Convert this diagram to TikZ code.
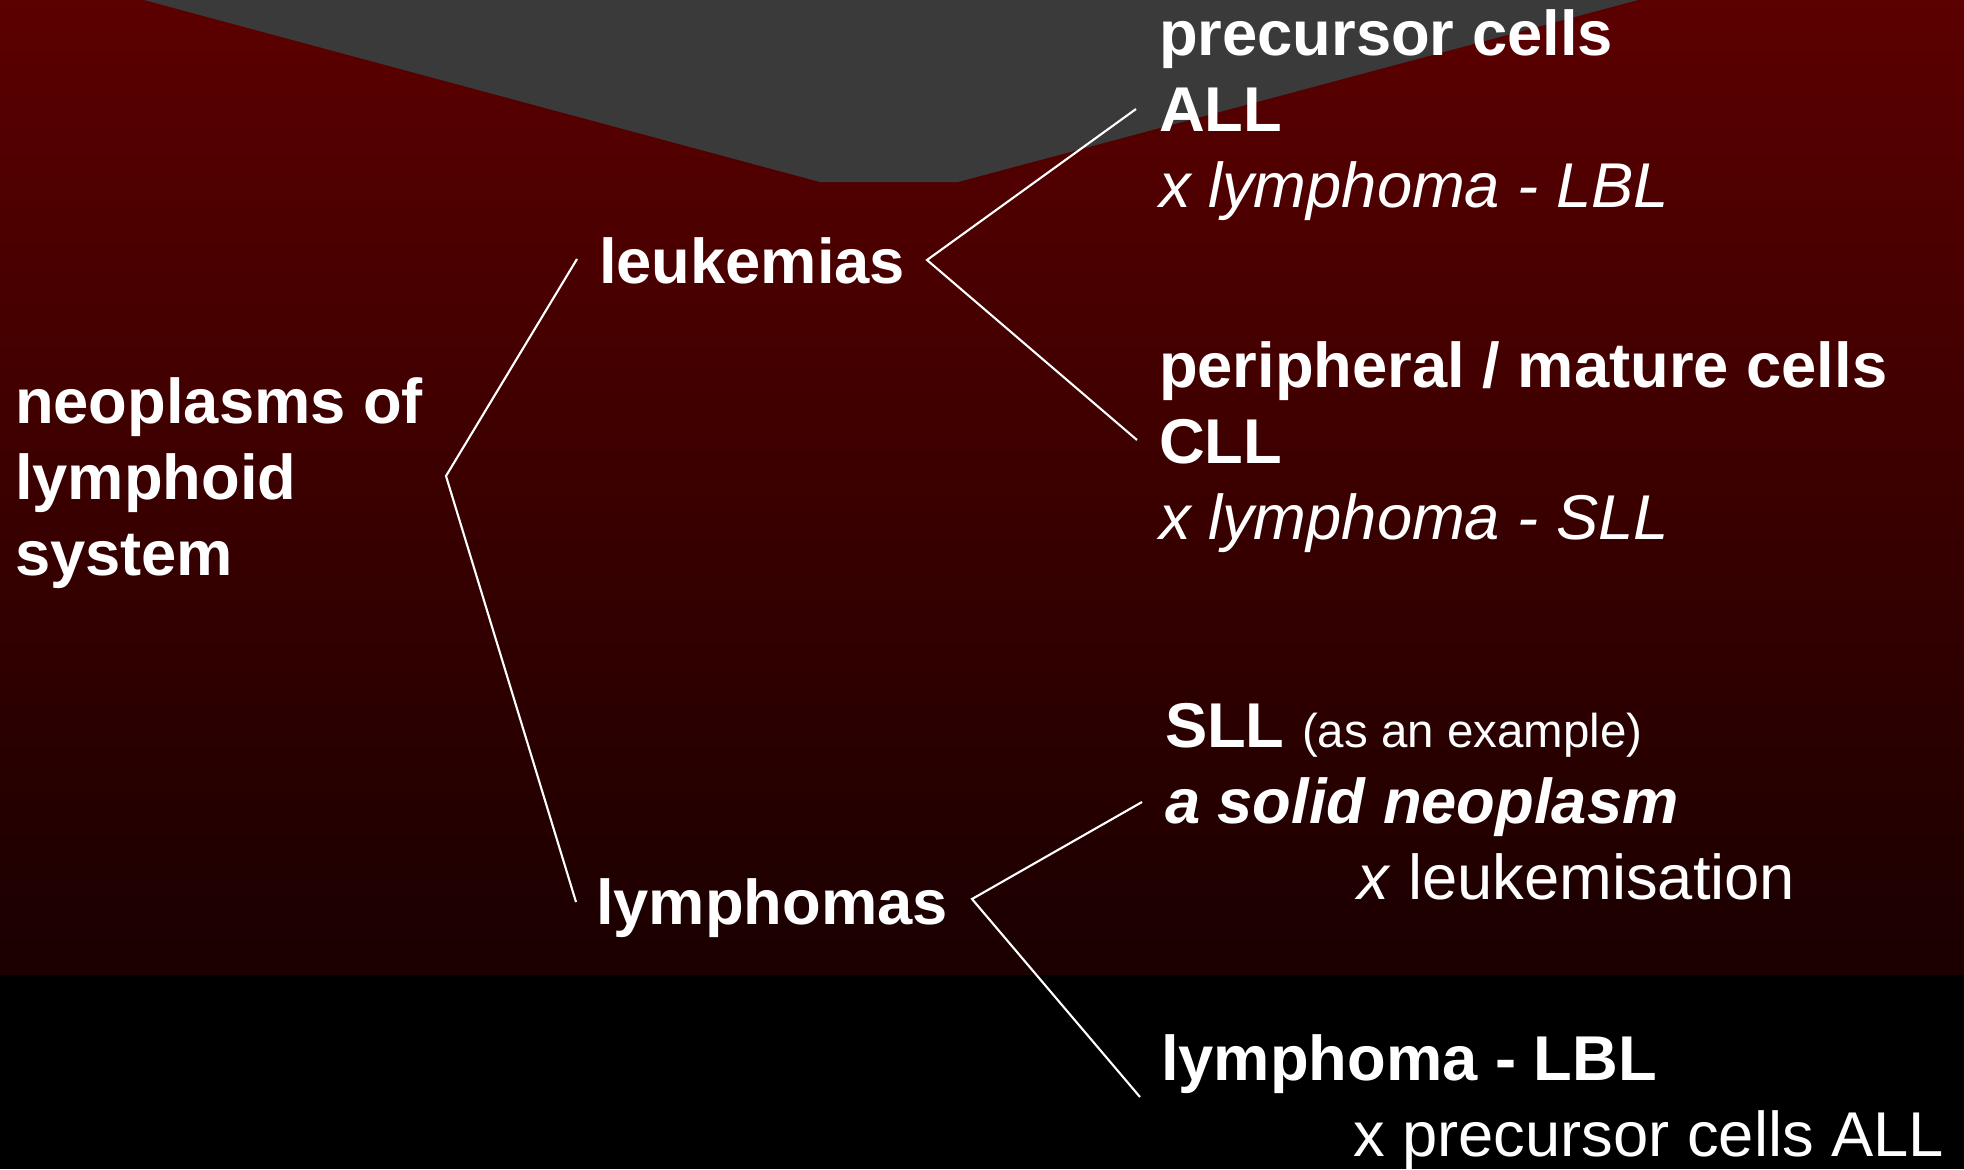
\documentclass[tikz,border=0pt]{standalone}
\usepackage{fontspec}
\setmainfont{Liberation Sans}
\usetikzlibrary{positioning}
\definecolor{bgtop}{RGB}{92,0,0}
\definecolor{bgbot}{RGB}{26,0,0}
\definecolor{wedge}{RGB}{58,58,58}

\begin{document}
\begin{tikzpicture}[x=0.01cm,y=-0.01cm,
  every node/.style={text=white,inner sep=0pt,outer sep=0pt,anchor=base west,align=left,font=\fontsize{18}{21.5}\selectfont},
  term/.style={font=\fontsize{18}{21.5}\selectfont\bfseries},
  branch/.style={draw=white,line width=0.6pt}]
  \useasboundingbox (0,0) rectangle (1964,1169);
  \fill[top color=bgtop,bottom color=bgbot] (0,0) rectangle (1964,975);
  \fill[black] (0,975) rectangle (1964,1169);
  \fill[wedge] (144,0) -- (820,182) -- (958,182) -- (1638,0) -- cycle;

  \node[term] (root) at (15,575) {neoplasms of\\lymphoid\\system};
  \node[term] (leuk) at (599,283) {leukemias};
  \node[term] (lymph) at (596,924) {lymphomas};

  \node (all) at (1159,207) {\textbf{precursor cells}\\\textbf{ALL}\\\textit{x lymphoma - LBL}};
  \node (cll) at (1159,539) {\textbf{peripheral / mature cells}\\\textbf{CLL}\\\textit{x lymphoma - SLL}};
  \node (sll) at (1165,899) {\textbf{SLL} {\fontsize{13.5}{16}\selectfont(as an example)}\\\textbf{\textit{a solid neoplasm}}\\\hspace*{1.92cm}\textit{x} leukemisation};
  \node (lbl) at (1161,1156) {\textbf{lymphoma - LBL}\\\hspace*{1.92cm}x precursor cells ALL};

  \coordinate (rootTip) at (446,476);
  \coordinate (leukIn) at (577,259);
  \coordinate (lymphIn) at (576,902);
  \coordinate (leukTip) at (927,260);
  \coordinate (allIn) at (1136,109);
  \coordinate (cllIn) at (1137,440);
  \coordinate (lymphTip) at (972,899);
  \coordinate (sllIn) at (1142,802);
  \coordinate (lblIn) at (1140,1097);

  \draw[branch] (leukIn) -- (rootTip) -- (lymphIn);
  \draw[branch] (allIn) -- (leukTip) -- (cllIn);
  \draw[branch] (sllIn) -- (lymphTip) -- (lblIn);
\end{tikzpicture}
\end{document}
